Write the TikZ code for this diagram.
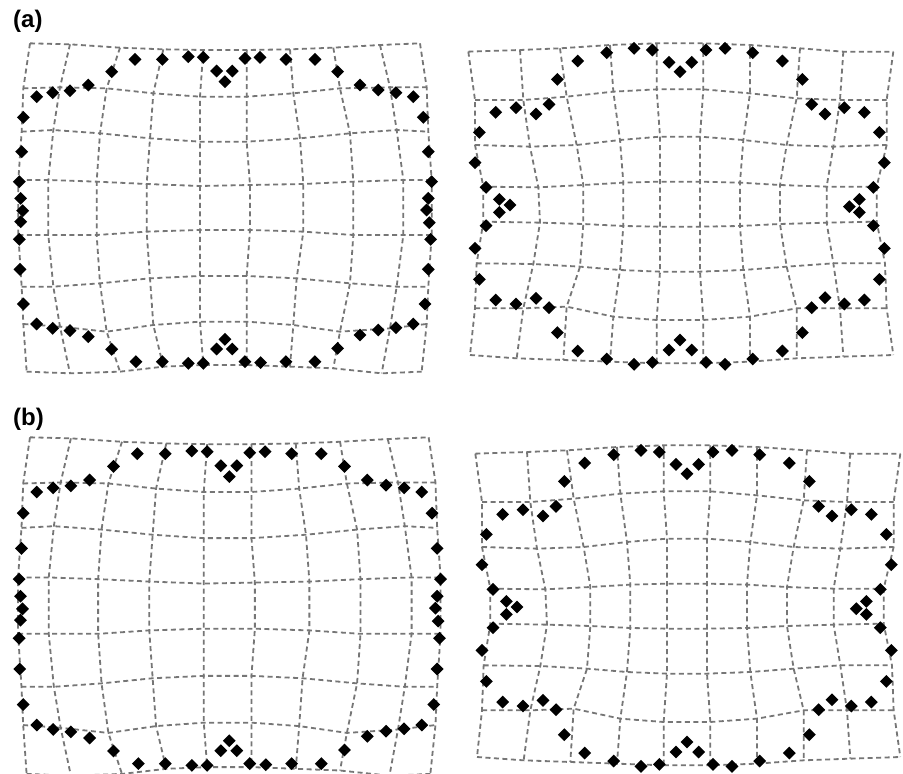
\documentclass[tikz,border=0pt]{standalone}
\usepackage{fontspec}
\setmainfont{Liberation Sans}
\usetikzlibrary{shapes.geometric}
\definecolor{gridgray}{RGB}{118,118,118}
\tikzset{
  gridline/.style={draw=gridgray, line width=1.8pt, dash pattern=on 5pt off 3.5pt, line join=round},
  dmd/.style={diamond, fill=black, draw=none, inner sep=0pt, minimum width=13pt, minimum height=13pt},
  lbl/.style={font=\bfseries\fontsize{24}{24}\selectfont, inner sep=0pt, anchor=north west}
}
\newcommand\mypanel[3]{%
  \foreach \row [count=\j from 0] in #2 {
    \foreach \x/\y [count=\i from 0] in \row {
      \coordinate (#1-\j-\i) at (\x,\y);
    }
  }
  \foreach \j in {0,...,7}{
    \draw[gridline] (#1-\j-0) \foreach \i in {1,...,9}{ -- (#1-\j-\i)};
  }
  \foreach \i in {0,...,9}{
    \draw[gridline] (#1-0-\i) \foreach \j in {1,...,7}{ -- (#1-\j-\i)};
  }
  \foreach \x/\y [count=\k] in #3 {
    \node[dmd] (#1-d\k) at (\x,\y) {};
  }
}
\def\ALdata{%
{90/130,210/133,360/143,490/148,610/150,740/150,870/148,1000/143,1140/135,1260/130},%
{70/265,180/262,320/265,460/280,600/290,740/290,880/280,1020/265,1170/262,1280/262},%
{65/395,160/390,300/400,450/415,600/425,740/425,900/415,1050/400,1190/390,1285/395},%
{55/540,145/540,290/545,440/552,600/558,750/555,910/552,1060/545,1210/540,1295/540},%
{55/705,145/705,290/705,440/695,600/690,750/690,910/695,1060/705,1210/705,1295/705},%
{65/860,160/860,300/850,450/835,600/828,740/828,890/835,1050/850,1190/860,1285/860},%
{70/972,180/980,320/995,460/975,600/965,740/965,880/975,1020/995,1170/985,1280/972},%
{80/1115,210/1120,360/1115,490/1100,610/1095,740/1095,870/1100,1000/1105,1145/1120,1265/1115}}
\def\ALdia{%
405/178,487/178,565/170,610/172,735/175,780/172,858/178,945/178,335/215,1013/215,650/213,697/213,675/245,%
110/290,158/278,210/272,265/255,1080/255,1135/270,1188/278,1240/290,%
70/352,65/455,58/545,62/595,68/632,62/665,58/718,60/808,70/912,%
1270/352,1285/455,1295/545,1285/595,1280/630,1288/668,1292/718,1285/808,1275/912,%
110/972,158/985,210/992,265/1010,1080/1005,1135/990,1188/983,1240/972,%
335/1048,1013/1045,408/1085,487/1085,565/1090,610/1090,735/1085,782/1088,858/1085,945/1085,675/1018,650/1047,697/1047}
\def\ARdata{%
{55/155,210/150,330/145,480/135,620/130,760/130,900/135,1050/145,1180/155,1330/155},%
{75/300,220/300,350/290,490/275,620/268,760/268,900/280,1040/295,1170/300,1310/300},%
{75/435,240/440,380/435,510/420,630/410,750/410,880/420,1010/435,1150/440,1310/435},%
{100/560,265/562,400/555,520/548,630/545,750/545,870/548,990/555,1130/560,1280/560},%
{100/665,270/668,400/672,520/678,630/680,750/680,870/678,990/672,1130/668,1280/665},%
{80/790,250/792,390/800,510/810,630/815,750/815,880/810,1010/800,1150/790,1305/790},%
{75/925,220/925,350/920,490/950,620/960,760/960,900/950,1040/925,1170/925,1310/925},%
{60/1065,200/1075,340/1080,480/1085,620/1090,760/1090,900/1085,1040/1075,1180/1070,1330/1065}}
\def\ARdia{%
470/158,552/145,607/150,768/150,825/145,908/158,383/183,997/183,322/238,1057/238,657/187,725/187,690/215,%
137/337,198/323,258/342,297/313,88/397,75/488,108/562,148/598,180/615,148/637,108/677,75/745,88/838,%
137/900,198/912,258/895,297/923,322/998,383/1053,470/1077,552/1093,607/1087,768/1087,825/1093,908/1077,997/1053,1057/998,690/1020,657/1050,725/1050,%
1085/313,1125/342,1183/323,1243/337,1288/397,1303/488,1270/562,1228/598,1198/620,1228/637,1270/677,1303/745,1288/838,1085/923,1125/893,1183/912,1243/900}
\begin{document}
\begin{tikzpicture}[x=1pt,y=-1pt]
\useasboundingbox[fill=white] (0,0) rectangle (903,774);
\node[lbl] (la) at (13,10) {(a)};
\node[lbl] (lb) at (13,408) {(b)};
\begin{scope}[scale=1/3]
  \mypanel{AL}{\ALdata}{\ALdia}
\end{scope}
\begin{scope}[shift={(450,0)},scale=1/3]
  \mypanel{AR}{\ARdata}{\ARdia}
\end{scope}
\begin{scope}[shift={(-0.66,392.9)},xscale=0.3407,yscale=0.3417]
  \mypanel{BL}{\ALdata}{\ALdia}
\end{scope}
\begin{scope}[shift={(457,402)},scale=1/3]
  \mypanel{BR}{\ARdata}{\ARdia}
\end{scope}
\end{tikzpicture}
\end{document}
